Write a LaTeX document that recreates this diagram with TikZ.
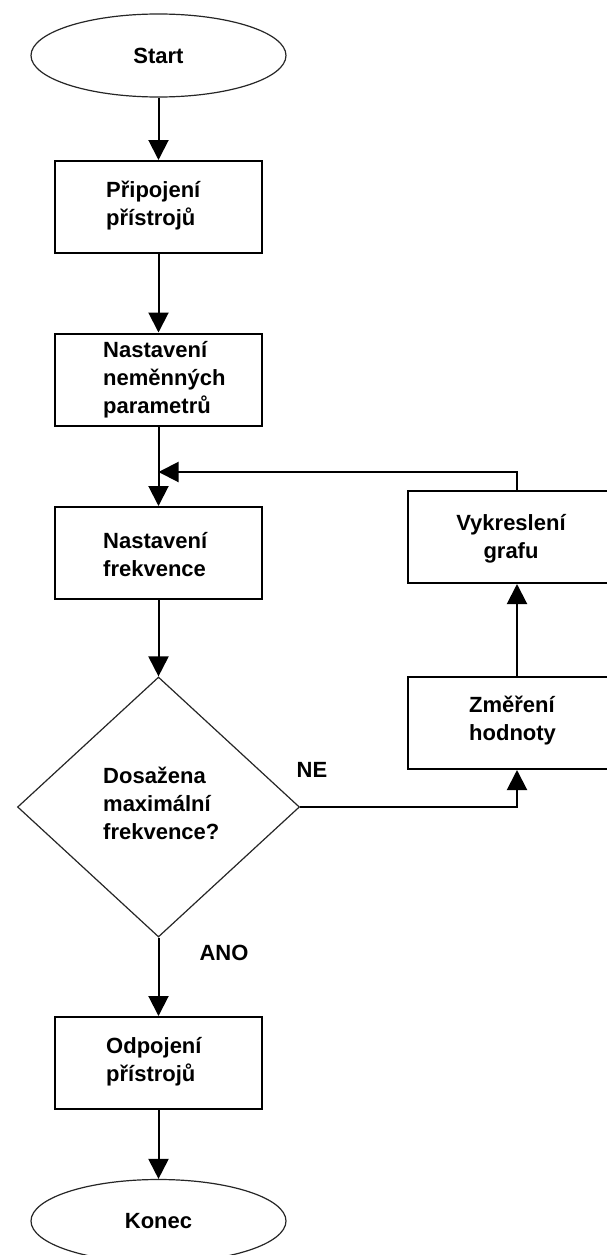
\documentclass[tikz,border=0pt]{standalone}
\usepackage{fontspec}
\setmainfont{Liberation Sans}
\usetikzlibrary{shapes.geometric,arrows.meta}
\begin{document}
\begin{tikzpicture}[x=1pt,y=-1pt,
  every node/.style={font=\bfseries\fontsize{22}{28}\selectfont},
  box/.style={draw,line width=2pt,minimum width=207pt,minimum height=92pt,inner sep=0pt},
  rbox/.style={draw,line width=2pt,minimum width=218pt,minimum height=92pt,inner sep=0pt},
  term/.style={draw=black!85,ellipse,line width=1.2pt,minimum width=255pt,minimum height=83pt,inner sep=0pt},
  dec/.style={draw=black!85,diamond,line width=1.2pt,minimum width=282pt,minimum height=260pt,inner sep=0pt},
  txt/.style={align=left,inner sep=0pt,anchor=west},
  ctxt/.style={align=center,inner sep=0pt},
  arr/.style={line width=2pt,-{Triangle[width=20pt,length=20pt]}},
  lbl/.style={inner sep=0pt}
]
\useasboundingbox (0,0) rectangle (607,1255);
\clip (0,0) rectangle (607,1255);
\fill[white] (0,0) rectangle (607,1255);

% left column
\node[term] (start) at (158.5,55.5) {Start};
\node[box] (b1) at (158.5,207) {};
\node[txt] (t1) at (106,206) {Připojení\\přístrojů};
\node[box] (b2) at (158.5,379.5) {};
\node[txt] (t2) at (103,380) {Nastavení\\neměnných\\parametrů};
\node[box] (b3) at (158.5,553) {};
\node[txt] (t3) at (103,555) {Nastavení\\frekvence};
\node[dec] (d) at (158.5,807) {};
\node[txt] (t4) at (103,803) {Dosažena\\maximální\\frekvence?};
\node[box] (b5) at (158.5,1063) {};
\node[txt] (t5) at (106,1062) {Odpojení\\přístrojů};
\node[term] (konec) at (158.5,1221) {Konec};

% right column
\node[rbox] (v) at (517,537) {};
\node[ctxt] (t6) at (511,539) {Vykreslení\\grafu};
\node[rbox] (z) at (517,723) {};
\node[txt] (t7) at (469,721) {Změření\\hodnoty};

% labels
\node[lbl] (ne) at (312,770) {NE};
\node[lbl] (ano) at (224,953) {ANO};

\coordinate (j) at (158.5,472);

% connectors
\draw[arr] (start.south) -- (b1.north);
\draw[arr] (b1.south) -- (b2.north);
\draw[arr] (b2.south) -- (b3.north);
\draw[arr] (v.north) |- (j);
\draw[arr] (b3.south) -- (d.north);
\draw[arr] (d.east) -| (z.south);
\draw[arr] (z.north) -- (v.south);
\draw[arr] (d.south) -- (b5.north);
\draw[arr] (b5.south) -- (konec.north);
\end{tikzpicture}
\end{document}
